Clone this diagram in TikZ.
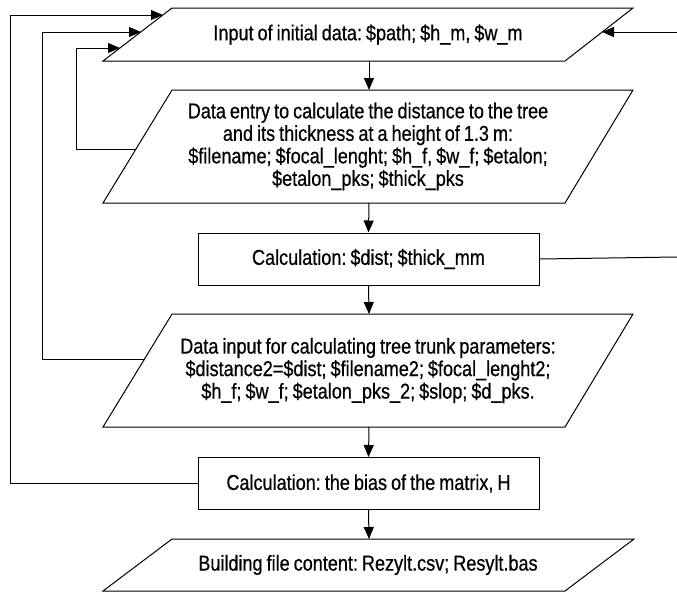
\documentclass[tikz,border=0pt]{standalone}
\usepackage{fontspec}
\setmainfont[FakeStretch=0.84,FakeBold=0.6,WordSpace=0.8]{Liberation Sans}
\usetikzlibrary{arrows.meta}
\frenchspacing
\begin{document}
\begin{tikzpicture}[x=1pt,y=-1pt,line width=1pt,
  arr/.style={-{Triangle[length=12pt,width=10pt]}},
  lbl/.style={align=center,inner sep=0pt,font=\fontsize{21.5pt}{22.5pt}\selectfont\frenchspacing},
  boxnode/.style={draw,minimum width=341pt,minimum height=52pt,inner sep=0pt,align=center,font=\fontsize{21.5pt}{22.5pt}\selectfont\frenchspacing}]
\useasboundingbox (0,0) rectangle (677,592);
% parallelogram 1
\draw (172,8) -- (633,8) -- (565,61) -- (103,61) -- cycle;
\node[lbl] (t1) at (368,34.5) {Input of initial data: \$path; \$h\_m, \$w\_m};
% parallelogram 2
\draw (172,90) -- (633,90) -- (565,203) -- (103,203) -- cycle;
\node[lbl] (t2) at (368,146.5) {Data entry to calculate the distance to the tree\\and its thickness at a height of 1.3 m:\\\$filename; \$focal\_lenght; \$h\_f, \$w\_f; \$etalon;\\\$etalon\_pks; \$thick\_pks};
% box 1
\node[boxnode] (b1) at (368.5,259) {Calculation: \$dist; \$thick\_mm};
% parallelogram 3
\draw (172,314) -- (633,314) -- (565,427) -- (103,427) -- cycle;
\node[lbl] (t3) at (368,370.5) {Data input for calculating tree trunk parameters:\\\$distance2=\$dist; \$filename2; \$focal\_lenght2;\\\$h\_f; \$w\_f; \$etalon\_pks\_2; \$slop; \$d\_pks.};
% box 2
\node[boxnode] (b2) at (368.5,483.5) {Calculation: the bias of the matrix, H};
% parallelogram 4
\draw (172,539) -- (634,539) -- (565,591) -- (103,591) -- cycle;
\node[lbl] (t4) at (368,565) {Building file content: Rezylt.csv; Resylt.bas};
% connection points
\coordinate (p1b) at (369,61);
\coordinate (p2t) at (369,90);
\coordinate (p2b) at (369,203);
\coordinate (p3t) at (369,314);
\coordinate (p3b) at (369,427);
\coordinate (p4t) at (369,539);
\coordinate (in1) at (163,15);
\coordinate (in2) at (141,32);
\coordinate (in3) at (120,48);
\coordinate (p3l) at (144.5,359);
\coordinate (p2l) at (136,149);
\coordinate (inr) at (602,32);
\coordinate (er1) at (677,257);
\coordinate (er2) at (677,32);
% vertical arrows
\draw[arr] (p1b) -- (p2t);
\draw[arr] (p2b) -- (b1.north);
\draw[arr] (b1.south) -- (p3t);
\draw[arr] (p3b) -- (b2.north);
\draw[arr] (b2.south) -- (p4t);
% loops
\draw[arr] (b2.west) -- (10,483.5) -- (10,15) -- (in1);
\draw[arr] (p3l) -- (42,359) -- (42,32) -- (in2);
\draw[arr] (p2l) -- (76,149) -- (76,48) -- (in3);
\draw (b1.east) -- (er1);
\draw[arr] (er2) -- (inr);
\end{tikzpicture}
\end{document}
